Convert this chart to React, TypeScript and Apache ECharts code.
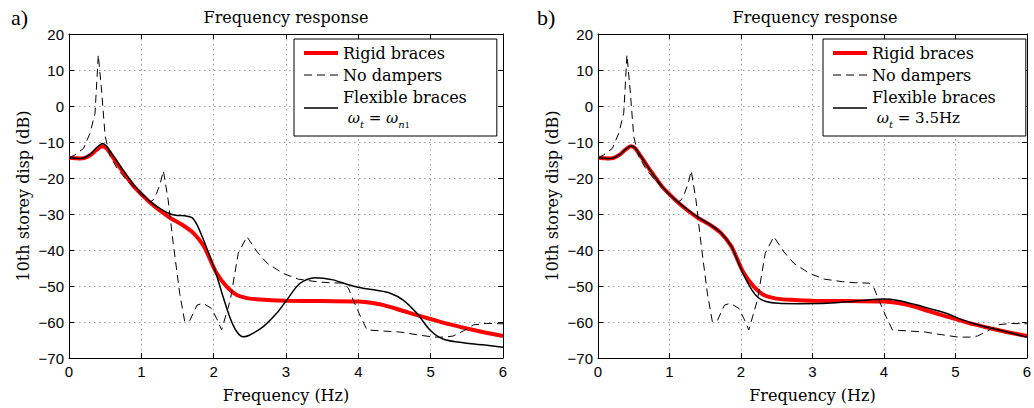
import React, { useEffect, useRef } from 'react';
import * as echarts from 'echarts';

// [frequency (Hz), 10th storey displacement (dB)]
const rigidBraces: number[][] = [
  [0, -14.4], [0.08, -14.5], [0.15, -14.6], [0.22, -14.4], [0.3, -13.6], [0.38, -12.2],
  [0.465, -11.2], [0.52, -11.8], [0.61, -14.3], [0.75, -18.4], [0.89, -22.2], [1.03, -25.1],
  [1.12, -26.8], [1.26, -29.1], [1.4, -31.1], [1.58, -33.2], [1.72, -35.3], [1.86, -38.8],
  [1.95, -42.6], [2.04, -46.4], [2.18, -50.2], [2.32, -52.5], [2.5, -53.5], [2.75, -53.9],
  [3.0, -54.1], [3.5, -54.2], [4.0, -54.3], [4.2, -54.7], [4.35, -55.3], [4.6, -56.8],
  [4.81, -58.1], [5.04, -59.4], [5.25, -60.6], [5.5, -61.8], [5.75, -62.9], [6.0, -63.9],
];

const noDampers: number[][] = [
  [0, -14.4], [0.08, -13.6], [0.2, -11.8], [0.29, -7.6], [0.36, -2.0], [0.405, 14.2],
  [0.45, 4.4], [0.5, -8.5], [0.57, -14.0], [0.68, -17.8], [0.8, -20.6], [0.98, -24.3],
  [1.12, -26.6], [1.16, -26.2], [1.21, -24.3], [1.26, -21.6], [1.305, -18.0], [1.37, -26],
  [1.44, -38], [1.53, -52], [1.6, -59.9], [1.67, -59.6], [1.77, -55.3], [1.85, -54.8],
  [1.97, -56.2], [2.04, -59], [2.11, -62.2], [2.23, -53.9], [2.34, -40.9], [2.46, -36.3],
  [2.6, -40.5], [2.74, -43.7], [2.96, -46.5], [3.17, -48.1], [3.42, -48.8], [3.6, -49.1],
  [3.79, -49.2], [3.86, -50.5], [3.93, -53.9], [4.03, -58.5], [4.12, -62.2], [4.35, -62.5],
  [4.58, -62.8], [4.8, -63.5], [5.04, -64.2], [5.2, -64.2], [5.31, -63.9], [5.45, -62.5],
  [5.59, -60.8], [5.77, -60.4], [6.0, -60.5],
];

// Flexible braces, omega_t = omega_n1 (panel a)
const flexibleBracesA: number[][] = [
  [0, -14.4], [0.08, -14.5], [0.15, -14.6], [0.22, -14.3], [0.3, -13.3], [0.38, -11.6],
  [0.465, -10.4], [0.52, -11.2], [0.61, -13.8], [0.75, -17.9], [0.89, -21.7], [1.03, -24.7],
  [1.12, -26.5], [1.26, -28.5], [1.4, -30.0], [1.5, -30.4], [1.6, -30.5], [1.7, -31.0],
  [1.77, -33.0], [1.86, -37.2], [1.95, -41.9], [2.04, -47], [2.13, -53], [2.23, -59],
  [2.32, -62.7], [2.41, -64.1], [2.5, -63.6], [2.69, -61.2], [2.87, -57.6], [3.01, -53.9],
  [3.19, -49.3], [3.4, -47.7], [3.65, -48.3], [3.84, -49.5], [4.03, -50.5], [4.25, -51.2],
  [4.44, -52.0], [4.62, -53.9], [4.81, -57.6], [4.99, -62.2], [5.17, -64.7], [5.5, -65.9],
  [5.75, -66.4], [6.0, -67.0],
];

// Flexible braces, omega_t = 3.5 Hz (panel b)
const flexibleBracesB: number[][] = [
  [0, -14.4], [0.08, -14.5], [0.15, -14.6], [0.22, -14.4], [0.3, -13.6], [0.38, -12.1],
  [0.465, -11.1], [0.52, -11.7], [0.61, -14.3], [0.75, -18.4], [0.89, -22.2], [1.03, -25.1],
  [1.12, -26.7], [1.26, -28.9], [1.4, -30.9], [1.58, -33.1], [1.72, -35.2], [1.86, -38.8],
  [1.95, -42.8], [2.04, -47.0], [2.15, -51.0], [2.24, -53.2], [2.35, -54.3], [2.52, -54.8],
  [2.8, -54.9], [3.2, -54.8], [3.5, -54.4], [3.8, -53.8], [4.0, -53.6], [4.2, -54.0],
  [4.45, -55.2], [4.7, -56.6], [4.9, -57.8], [5.1, -59.4], [5.3, -60.7], [5.5, -61.7],
  [5.75, -62.9], [6.0, -64.2],
];

const seriesNames = ['Rigid braces', 'No dampers', 'Flexible braces'];
const panelLabels = ['a)', 'b)'];
const titleText = 'Frequency response';
const xName = 'Frequency (Hz)';
const yName = '10th storey disp (dB)';

const SERIF = "'DejaVu Serif', 'Liberation Serif', serif";
const SANS = "'Liberation Sans', Arial, sans-serif";

const gridLeft = [69, 598];
const gridTop = 34;
const gridW = 434;
const gridH = 325;

function fmtNum(v: number) {
  return v < 0 ? '\u2212' + Math.abs(v) : String(v);
}

const splitLine = { show: true, lineStyle: { color: '#9a9a9a', type: [1.5, 3.5] as any, width: 1 } };
const axisLine = { show: true, onZero: false, lineStyle: { color: '#000', width: 1 } };
const axisTick = { show: true, inside: true, length: 5, lineStyle: { color: '#000', width: 1 } };

function makeXAxes(gridIndex: number) {
  return [
    {
      type: 'value', gridIndex, min: 0, max: 6, interval: 1, position: 'bottom',
      axisLine, axisTick,
      axisLabel: { color: '#000', fontFamily: SANS, fontSize: 15, margin: 6, formatter: fmtNum },
      splitLine,
      name: xName, nameLocation: 'middle', nameGap: 29,
      nameTextStyle: { fontFamily: SERIF, fontSize: 16, color: '#000' },
    },
    {
      type: 'value', gridIndex, min: 0, max: 6, interval: 1, position: 'top',
      axisLine, axisTick, axisLabel: { show: false }, splitLine: { show: false },
    },
  ];
}

function makeYAxes(gridIndex: number) {
  return [
    {
      type: 'value', gridIndex, min: -70, max: 20, interval: 10, position: 'left',
      axisLine, axisTick,
      axisLabel: { color: '#000', fontFamily: SANS, fontSize: 15, margin: 5, formatter: fmtNum },
      splitLine,
      name: yName, nameLocation: 'middle', nameGap: 38,
      nameTextStyle: { fontFamily: SERIF, fontSize: 16, color: '#000' },
    },
    {
      type: 'value', gridIndex, min: -70, max: 20, interval: 10, position: 'right',
      axisLine, axisTick, axisLabel: { show: false }, splitLine: { show: false },
    },
  ];
}

function makeSeries(panel: number, flexible: number[][]) {
  const xi = panel * 2;
  const yi = panel * 2;
  return [
    {
      name: seriesNames[0], type: 'line', xAxisIndex: xi, yAxisIndex: yi, data: rigidBraces,
      symbol: 'none', smooth: 0.3,
      lineStyle: { color: '#ff0000', width: 4 }, itemStyle: { color: '#ff0000' }, z: 2,
    },
    {
      name: seriesNames[1], type: 'line', xAxisIndex: xi, yAxisIndex: yi, data: noDampers,
      symbol: 'none', smooth: false,
      lineStyle: { color: '#000', width: 1, type: [8, 5] }, itemStyle: { color: '#000' }, z: 3,
    },
    {
      name: seriesNames[2], type: 'line', xAxisIndex: xi, yAxisIndex: yi, data: flexible,
      symbol: 'none', smooth: 0.3,
      lineStyle: { color: '#000', width: 1.5 }, itemStyle: { color: '#000' }, z: 4,
    },
  ];
}

const richMath = {
  m: { fontFamily: SERIF, fontStyle: 'italic', fontSize: 15, lineHeight: 22, color: '#000' },
  r: { fontFamily: SERIF, fontSize: 15, lineHeight: 22, color: '#000' },
  s: { fontFamily: SERIF, fontStyle: 'italic', fontSize: 10, lineHeight: 12, verticalAlign: 'bottom', color: '#000' },
  ss: { fontFamily: SERIF, fontSize: 8, lineHeight: 8, verticalAlign: 'bottom', color: '#000' },
};

function makeLegend(left: number, mathLine: string) {
  return {
    left, top: 39, orient: 'vertical', itemWidth: 34, itemHeight: 14, itemGap: 2,
    padding: [4, 30, 7, 8], borderColor: '#000', borderWidth: 1, backgroundColor: '#fff',
    selectedMode: false,
    data: seriesNames,
    itemStyle: { opacity: 0 },
    lineStyle: { width: 'inherit' },
    textStyle: { fontFamily: SERIF, fontSize: 16, color: '#000', lineHeight: 20, rich: richMath },
    formatter: (name: string) => (name === seriesNames[2] ? name + '\n' + mathLine : name),
  };
}

export default function App() {
  const ref = useRef<HTMLDivElement>(null);
  useEffect(() => {
    if (!ref.current) return;
    const chart = echarts.init(ref.current, undefined, { renderer: 'svg' });
    const option: any = {
      animation: false,
      backgroundColor: '#fff',
      grid: gridLeft.map((l) => ({ left: l, top: gridTop, width: gridW, height: gridH, containLabel: false })),
      xAxis: [...makeXAxes(0), ...makeXAxes(1)],
      yAxis: [...makeYAxes(0), ...makeYAxes(1)],
      legend: [
        makeLegend(294, '{r| }{m|\u03c9}{s|t}{r| = }{m|\u03c9}{s|n}{ss|1}'),
        makeLegend(823, '{r| }{m|\u03c9}{s|t}{r| = 3.5Hz}'),
      ],
      graphic: [
        ...gridLeft.map((l) => ({
          type: 'text', x: l + gridW / 2, y: 17,
          style: { text: titleText, fontFamily: SERIF, fontSize: 16, fill: '#000', align: 'center', verticalAlign: 'middle' },
        })),
        ...panelLabels.map((t, i) => ({
          type: 'text', x: i === 0 ? 11 : 537, y: 17,
          style: { text: t, fontFamily: "'Liberation Serif', serif", fontSize: 22, fill: '#000', align: 'left', verticalAlign: 'middle' },
        })),
      ],
      series: [...makeSeries(0, flexibleBracesA), ...makeSeries(1, flexibleBracesB)],
    };
    chart.setOption(option);
    return () => chart.dispose();
  }, []);
  return (
    <div
      ref={ref}
      style={{ position: 'absolute', left: 0, top: 0, width: 1034, height: 408, background: '#fff' }}
    />
  );
}
